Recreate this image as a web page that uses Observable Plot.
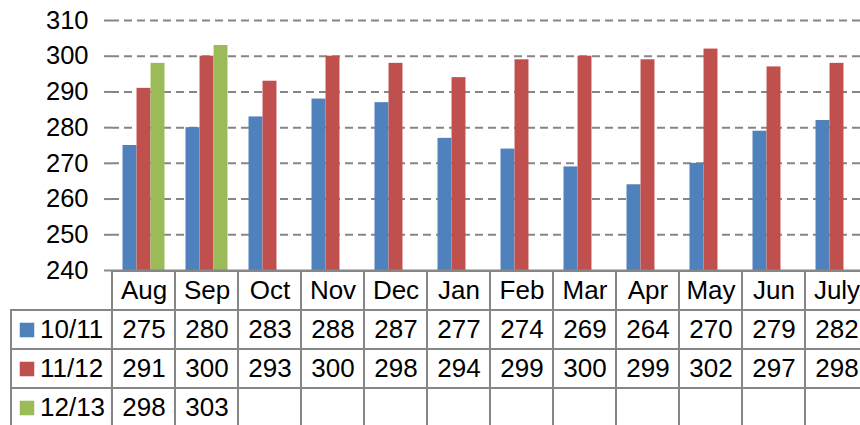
<!DOCTYPE html>
<html>
<head>
<meta charset="utf-8">
<script src="https://cdn.jsdelivr.net/npm/d3@7"></script>
<script src="https://cdn.jsdelivr.net/npm/@observablehq/plot@0.6"></script>
<style>
  html, body { margin: 0; padding: 0; background: #fff; overflow: hidden; }
  #wrap { position: relative; width: 860px; height: 425px; overflow: hidden; }
  #chart { position: absolute; left: 0; top: 0; }
  #table { position: absolute; left: 0; top: 268px; }
  svg { overflow: visible; }
</style>
</head>
<body>
<div id="wrap"><div id="chart"></div><div id="table"></div></div>
<script>
// ---- data ----
const months = ["Aug", "Sep", "Oct", "Nov", "Dec", "Jan", "Feb", "Mar", "Apr", "May", "Jun", "July"];
const seriesNames = ["10/11", "11/12", "12/13"];
const values1011 = [275, 280, 283, 288, 287, 277, 274, 269, 264, 270, 279, 282];
const values1112 = [291, 300, 293, 300, 298, 294, 299, 300, 299, 302, 297, 298];
const values1213 = [298, 303];
const yTicks = [240, 250, 260, 270, 280, 290, 300, 310];
const colors = ["#4F81BD", "#C0504D", "#9BBB59"];

const seriesValues = [values1011, values1112, values1213];
const series = seriesNames.map((name, si) =>
  months.map((m, i) => ({month: m, series: name, value: seriesValues[si][i]}))
        .filter(d => d.value != null)
);

// ---- layout ----
const X0 = 111, X1 = 868;
const bw = (X1 - X0) / months.length;
const barW = bw / 4.5;          // 3 bars + 150% gap
const pad = barW * 0.75;
const gray = "#868686";
const font = "'Liberation Sans', Arial, sans-serif";

const chart = Plot.plot({
  width: 860,
  height: 272,
  marginTop: 20,
  marginBottom: 2,
  marginLeft: X0,
  marginRight: 0,
  style: {fontFamily: font, fontSize: "25px", background: "transparent", color: "black"},
  x: {domain: months, range: [X0, X1], padding: 0, axis: null},
  y: {domain: [240, 310], range: [270, 20], axis: null},
  marks: [
    Plot.ruleY(yTicks.filter(t => t > 240), {stroke: gray, strokeWidth: 2, strokeDasharray: "8,5"}),
    ...series.map((data, si) => Plot.barY(data, {
      x: "month", y1: 240, y2: "value", fill: colors[si],
      insetLeft: pad + si * barW,
      insetRight: bw - pad - (si + 1) * barW
    })),
    Plot.ruleY([240], {stroke: gray, strokeWidth: 2}),
    Plot.axisY(yTicks, {
      tickSize: 7, tickPadding: 16, stroke: gray, strokeWidth: 2,
      fill: "black", fontSize: 25.5, line: true, label: null, tickFormat: d => String(d)
    })
  ]
});
document.getElementById("chart").appendChild(chart);

// ---- data table ----
const rowNames = ["", ...seriesNames];
const rowH = 39.4;
const headerCells = months.map(m => ({month: m, row: "", text: m}));
const valueCells = [];
seriesNames.forEach((name, si) => {
  months.forEach((m, i) => {
    const v = seriesValues[si][i];
    valueCells.push({month: m, row: name, text: v == null ? "" : String(v)});
  });
});
const allCells = [...headerCells, ...valueCells];

const table = Plot.plot({
  width: 860,
  height: 157,
  marginTop: 0,
  marginBottom: 0,
  marginLeft: X0,
  marginRight: 0,
  style: {fontFamily: font, fontSize: "26px", background: "transparent", color: "black"},
  x: {domain: months, range: [X0, X1], padding: 0, axis: null},
  y: {domain: rowNames, range: [2, 2 + rowNames.length * rowH], padding: 0, axis: null},
  color: {domain: seriesNames, range: colors},
  marks: [
    Plot.cell(allCells, {x: "month", y: "row", fill: "white", stroke: gray, strokeWidth: 2, inset: 0}),
    Plot.cell(seriesNames, {
      x: () => months[0], y: d => d, fill: "white", stroke: gray, strokeWidth: 2,
      insetTop: 0, insetBottom: 0, insetLeft: -(X0 - 10), insetRight: bw
    }),
    Plot.text(allCells, {x: "month", y: "row", text: "text", fontSize: 26, fill: "black"}),
    Plot.dot(seriesNames, {
      x: () => months[0], y: d => d, dx: -117, symbol: "square", r: 8.2,
      fill: d => d, stroke: null
    }),
    Plot.text(seriesNames, {
      x: () => months[0], y: d => d, dx: -104, text: d => d,
      textAnchor: "start", fontSize: 26, fill: "black"
    })
  ]
});
document.getElementById("table").appendChild(table);
</script>
</body>
</html>
